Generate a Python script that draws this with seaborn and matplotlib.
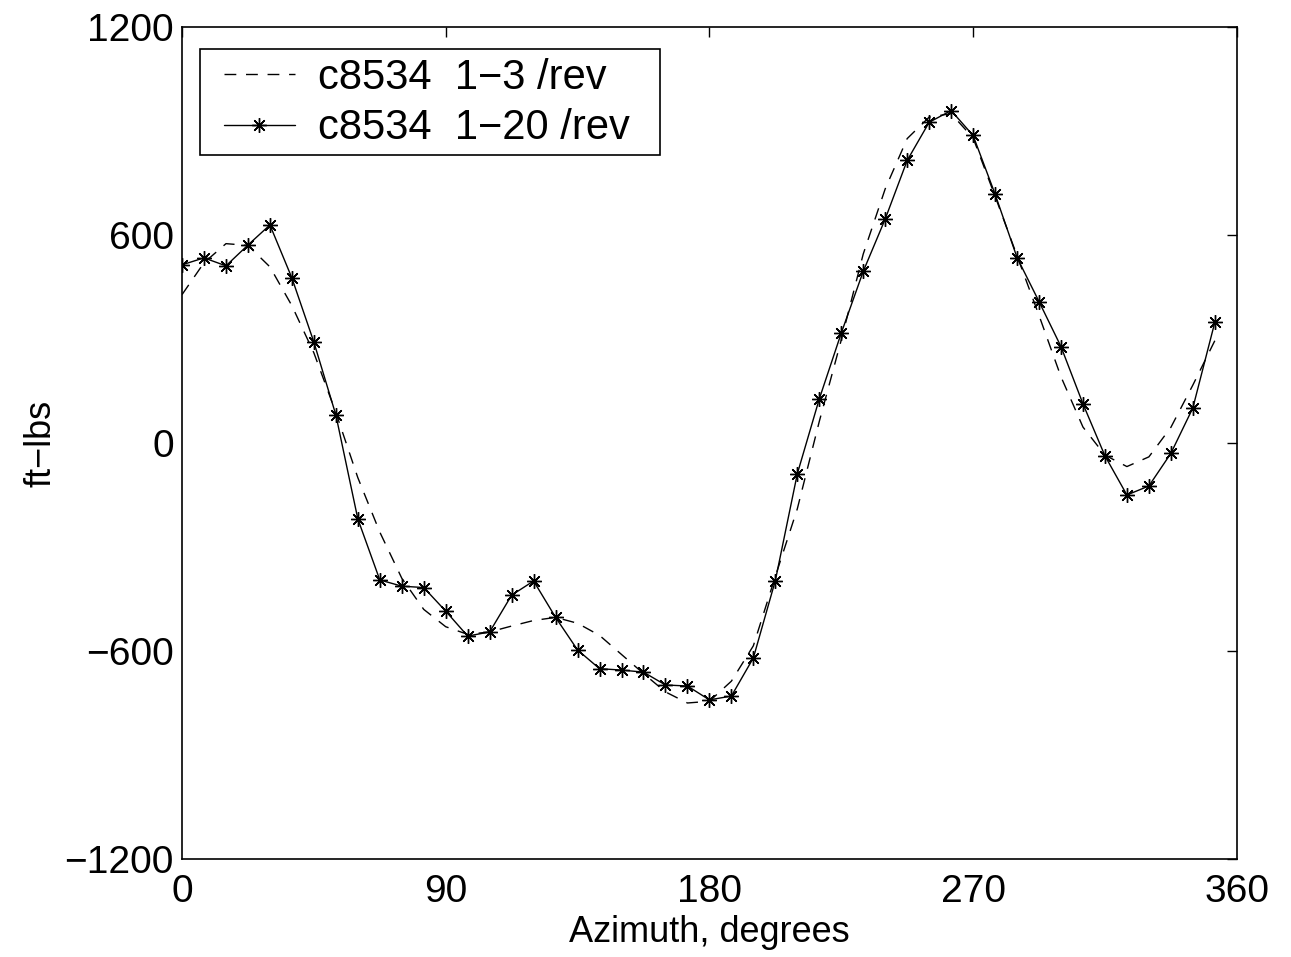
import numpy as np
import pandas as pd
import matplotlib
matplotlib.use("Agg")
import matplotlib.pyplot as plt
from matplotlib.patches import Rectangle
import seaborn as sns

# ---- data ----
azimuth = [0, 7.5, 15, 22.5, 30, 37.5, 45, 52.5, 60, 67.5, 75, 82.5,
           90, 97.5, 105, 112.5, 120, 127.5, 135, 142.5, 150, 157.5, 165, 172.5,
           180, 187.5, 195, 202.5, 210, 217.5, 225, 232.5, 240, 247.5, 255, 262.5,
           270, 277.5, 285, 292.5, 300, 307.5, 315, 322.5, 330, 337.5, 345, 352.5]

rev_1_20 = [514, 534, 511, 571, 629, 476, 291, 81, -219, -395, -413, -417,
            -485, -557, -545, -439, -398, -503, -597, -651, -655, -661, -698, -701,
            -741, -730, -620, -397, -89, 127, 317, 495, 646, 815, 925, 959,
            887, 718, 535, 408, 278, 113, -37, -150, -124, -30, 101, 348]

rev_1_3 = [428, 520, 575, 570, 508, 396, 260, 88, -100, -257, -390, -480,
           -530, -552, -545, -528, -512, -503, -520, -555, -610, -665, -718, -750,
           -745, -687, -585, -385, -190, 62, 297, 545, 733, 878, 940, 950,
           880, 712, 540, 368, 191, 46, -35, -68, -40, 45, 167, 295]

labels = ["c8534  1\u22123 /rev", "c8534  1\u221220 /rev"]
xticks = [0, 90, 180, 270, 360]
yticks = [-1200, -600, 0, 600, 1200]

df = pd.DataFrame({"azimuth": azimuth, "low": rev_1_3, "full": rev_1_20})

sns.set_theme(style="white")
plt.rcParams["font.family"] = ["Liberation Sans", "DejaVu Sans"]
plt.rcParams["text.color"] = "black"
plt.rcParams["axes.labelcolor"] = "black"

fig = plt.figure(figsize=(12.91, 9.57), dpi=100)
ax = fig.add_axes([0.141, 0.1024, 0.817, 0.8694])

sns.lineplot(data=df, x="azimuth", y="low", ax=ax, color="black", lw=1.0,
             linestyle=(0, (8.5, 7)), label=labels[0])
sns.lineplot(data=df, x="azimuth", y="full", ax=ax, color="black", lw=1.0,
             marker=(8, 2, 0), markersize=10.5, markeredgewidth=1.0,
             markeredgecolor="black", label=labels[1])

ax.set_xlim(0, 360)
ax.set_ylim(-1200, 1200)
ax.set_xticks(xticks)
ax.set_yticks(yticks)
ax.set_xticklabels([str(t) for t in xticks])
ax.set_yticklabels([str(t).replace("-", "\u2212") for t in yticks])
ax.tick_params(axis="both", which="both", direction="in", length=7, width=1.0,
               labelsize=28, colors="black", top=True, right=True)
ax.tick_params(axis="x", pad=10.5)
ax.tick_params(axis="y", pad=6)
for s in ax.spines.values():
    s.set_color("black")
    s.set_linewidth(1.2)

ax.set_xlabel("Azimuth, degrees", fontsize=26, labelpad=4)
ax.set_ylabel("ft\u2212lbs", fontsize=26, labelpad=4)

# legend (frame drawn as a separate box so horizontal/vertical padding differ)
leg = ax.legend(loc="center left", bbox_to_anchor=(0.0398, 0.9087), fontsize=30,
                frameon=False, handlelength=1.7, handletextpad=0.55,
                borderpad=0, labelspacing=0.26, borderaxespad=0)
ax.add_patch(Rectangle((0.01706, 0.84615), 0.43604, 0.12741,
                       transform=ax.transAxes, fill=False, edgecolor="black",
                       linewidth=1.2, zorder=5))

fig.savefig("out.png", dpi=100, facecolor="white")
